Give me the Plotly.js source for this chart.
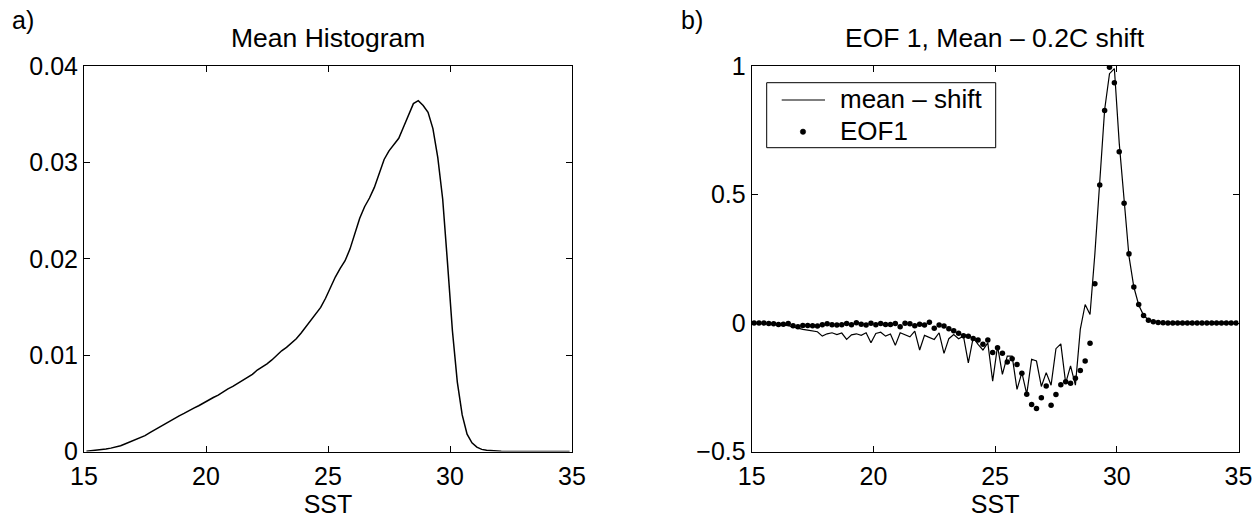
<!DOCTYPE html>
<html>
<head>
<meta charset="utf-8">
<script src="https://cdn.plot.ly/plotly-3.0.1.min.js"></script>
<style>html,body{margin:0;padding:0;background:#fff;}#chart{width:1260px;height:518px;}</style>
</head>
<body>
<div id="chart"></div>
<script>
// SST bin centres (deg C)
const sst = [15.1,15.3,15.5,15.7,15.9,16.1,16.3,16.5,16.7,16.9,
  17.1,17.3,17.5,17.7,17.9,18.1,18.3,18.5,18.7,18.9,
  19.1,19.3,19.5,19.7,19.9,20.1,20.3,20.5,20.7,20.9,
  21.1,21.3,21.5,21.7,21.9,22.1,22.3,22.5,22.7,22.9,
  23.1,23.3,23.5,23.7,23.9,24.1,24.3,24.5,24.7,24.9,
  25.1,25.3,25.5,25.7,25.9,26.1,26.3,26.5,26.7,26.9,
  27.1,27.3,27.5,27.7,27.9,28.1,28.3,28.5,28.7,28.9,
  29.1,29.3,29.5,29.7,29.9,30.1,30.3,30.5,30.7,30.9,
  31.1,31.3,31.5,31.7,31.9,32.1,32.3,32.5,32.7,32.9,
  33.1,33.3,33.5,33.7,33.9,34.1,34.3,34.5,34.7,34.9];

// a) Mean histogram
const meanHist = [0.00003,0.00008,0.00012,0.00018,0.00025,0.00035,0.00045,0.0006,0.0008,0.001,
  0.0012,0.0014,0.00165,0.00195,0.00225,0.00255,0.00285,0.00315,0.00345,0.0037,
  0.00395,0.00425,0.0045,0.00475,0.00505,0.00535,0.0056,0.00585,0.0062,0.0065,
  0.00675,0.00705,0.0074,0.0077,0.008,0.00845,0.00875,0.0091,0.0095,0.01,
  0.01045,0.0108,0.01125,0.0117,0.0123,0.01295,0.01355,0.01425,0.01495,0.0159,
  0.0170,0.0181,0.0190,0.0198,0.0210,0.0226,0.0242,0.0254,0.0263,0.0274,
  0.0289,0.0303,0.0312,0.0318,0.0325,0.0337,0.0350,0.0361,0.0364,0.0359,
  0.0352,0.0335,0.0305,0.0262,0.0195,0.0125,0.0072,0.0038,0.0018,0.0009,
  0.00045,0.00022,0.00012,0.00007,0.00004,0.00002,0.00001,0,0,0,
  0,0,0,0,0,0,0,0,0,0];

// b) mean - shift (solid line)
const meanShift = [0,0,-0.002,-0.003,-0.004,-0.006,-0.008,-0.010,-0.015,-0.022,
  -0.025,-0.028,-0.032,-0.034,-0.051,-0.042,-0.038,-0.045,-0.039,-0.064,
  -0.046,-0.042,-0.048,-0.038,-0.077,-0.041,-0.036,-0.051,-0.043,-0.087,
  -0.038,-0.045,-0.054,-0.032,-0.105,-0.048,-0.055,-0.064,-0.038,-0.118,
  -0.061,-0.045,-0.061,-0.051,-0.155,-0.057,-0.083,-0.105,-0.077,-0.226,
  -0.090,-0.200,-0.129,-0.129,-0.258,-0.193,-0.277,-0.141,-0.148,-0.247,
  -0.193,-0.242,-0.100,-0.081,-0.234,-0.167,-0.242,-0.025,0.072,0.033,
  0.27,0.54,0.83,0.97,0.99,0.70,0.47,0.26,0.14,0.07,
  0.03,0.012,0.005,0.002,0,0,0,0,0,0,
  0,0,0,0,0,0,0,0,0,0];

// b) EOF1 (dots)
const eof1 = [0,0,0,-0.002,-0.003,-0.006,-0.005,-0.002,-0.011,-0.015,
  -0.010,-0.010,-0.011,-0.012,-0.007,-0.003,-0.007,-0.008,-0.007,-0.002,
  -0.007,0.001,-0.005,-0.008,-0.001,-0.007,-0.002,-0.006,-0.006,-0.002,
  -0.015,-0.001,-0.003,-0.011,-0.005,-0.008,0.003,-0.020,-0.008,-0.012,
  -0.022,-0.030,-0.040,-0.050,-0.052,-0.060,-0.066,-0.083,-0.066,-0.115,
  -0.096,-0.118,-0.152,-0.139,-0.161,-0.196,-0.277,-0.317,-0.333,-0.291,
  -0.245,-0.320,-0.278,-0.240,-0.229,-0.234,-0.215,-0.185,-0.148,-0.079,
  0.153,0.537,0.827,0.995,0.935,0.666,0.466,0.269,0.140,0.072,
  0.029,0.011,0.005,0.002,0.001,0,0,0,0,0,
  0,0,0,0,0,0,0,0,0,0];

const legendNames = ['mean – shift', 'EOF1'];

const FONT = 'Liberation Sans, Arial, Helvetica, sans-serif';
const W = 1260, H = 518;
const px = v => v / W;          // pixel -> paper x
const py = v => 1 - v / H;      // pixel -> paper y

const traces = [
  {x: sst, y: meanHist, type: 'scatter', mode: 'lines', line: {color: '#000', width: 1.5},
   xaxis: 'x', yaxis: 'y', showlegend: false},
  {x: sst, y: meanShift, type: 'scatter', mode: 'lines', name: legendNames[0],
   line: {color: '#000', width: 1.2}, xaxis: 'x2', yaxis: 'y2', showlegend: false},
  {x: sst, y: eof1, type: 'scatter', mode: 'markers', name: legendNames[1],
   marker: {color: '#000', size: 5.5}, xaxis: 'x2', yaxis: 'y2', showlegend: false}
];

const axBase = {
  showgrid: false, zeroline: false, showline: true, mirror: 'ticks',
  linecolor: '#000', linewidth: 1, ticks: 'inside', ticklen: 6, tickcolor: '#000', tickwidth: 1,
  tickfont: {family: FONT, size: 25, color: '#000'}
};
const xBase = Object.assign({}, axBase, {range: [15, 35], tickvals: [15,20,25,30,35],
  ticklabelstandoff: 2,
  title: {text: 'SST', font: {family: FONT, size: 25, color: '#000'}, standoff: 9}});

const legendBox = {x0: 766.7, x1: 995.7, y0: 82.7, y1: 147.7};

const layout = {
  width: W, height: H,
  margin: {l: 0, r: 0, t: 0, b: 0},
  paper_bgcolor: '#fff', plot_bgcolor: '#fff',
  font: {family: FONT, color: '#000'},
  showlegend: false,
  xaxis: Object.assign({}, xBase, {domain: [px(84), px(572)], anchor: 'y'}),
  yaxis: Object.assign({}, axBase, {domain: [1 - 451.5/H, 1 - 66/H], range: [0, 0.04],
    tickvals: [0, 0.01, 0.02, 0.03, 0.04], ticktext: ['0','0.01','0.02','0.03','0.04'], anchor: 'x'}),
  xaxis2: Object.assign({}, xBase, {domain: [px(751.7), px(1238.5)], anchor: 'y2'}),
  yaxis2: Object.assign({}, axBase, {domain: [1 - 451.5/H, 1 - 66/H], range: [-0.5, 1],
    tickvals: [-0.5, 0, 0.5, 1], ticktext: ['\u22120.5','0','0.5','1'], anchor: 'x2'}),
  shapes: [
    {type: 'rect', xref: 'paper', yref: 'paper', layer: 'above',
     x0: px(legendBox.x0), x1: px(legendBox.x1), y0: py(legendBox.y0), y1: py(legendBox.y1),
     line: {color: '#000', width: 1}, fillcolor: '#fff'},
    {type: 'line', xref: 'paper', yref: 'paper', layer: 'above',
     x0: px(781.7), x1: px(825), y0: py(100), y1: py(100), line: {color: '#000', width: 1.2}},
    {type: 'circle', xref: 'paper', yref: 'paper', layer: 'above',
     x0: px(800.3), x1: px(805.7), y0: py(129), y1: py(134.4),
     line: {color: '#000', width: 0.5}, fillcolor: '#000'}
  ],
  annotations: [
    {text: 'Mean Histogram', x: px(328), y: py(38), xref: 'paper', yref: 'paper',
     xanchor: 'center', yanchor: 'middle', showarrow: false, font: {family: FONT, size: 26.5, color: '#000'}},
    {text: 'EOF 1, Mean – 0.2C shift', x: px(995), y: py(38), xref: 'paper', yref: 'paper',
     xanchor: 'center', yanchor: 'middle', showarrow: false, font: {family: FONT, size: 26.5, color: '#000'}},
    {text: 'a)', x: px(10), y: py(20), xref: 'paper', yref: 'paper',
     xanchor: 'left', yanchor: 'middle', showarrow: false, font: {family: FONT, size: 25, color: '#000'}},
    {text: 'b)', x: px(679), y: py(20), xref: 'paper', yref: 'paper',
     xanchor: 'left', yanchor: 'middle', showarrow: false, font: {family: FONT, size: 25, color: '#000'}},
    {text: legendNames[0], x: px(838), y: py(99), xref: 'paper', yref: 'paper',
     xanchor: 'left', yanchor: 'middle', showarrow: false, font: {family: FONT, size: 26, color: '#000'}},
    {text: legendNames[1], x: px(838), y: py(131), xref: 'paper', yref: 'paper',
     xanchor: 'left', yanchor: 'middle', showarrow: false, font: {family: FONT, size: 26, color: '#000'}}
  ]
};

Plotly.newPlot('chart', traces, layout, {displayModeBar: false, staticPlot: true});
</script>
</body>
</html>
